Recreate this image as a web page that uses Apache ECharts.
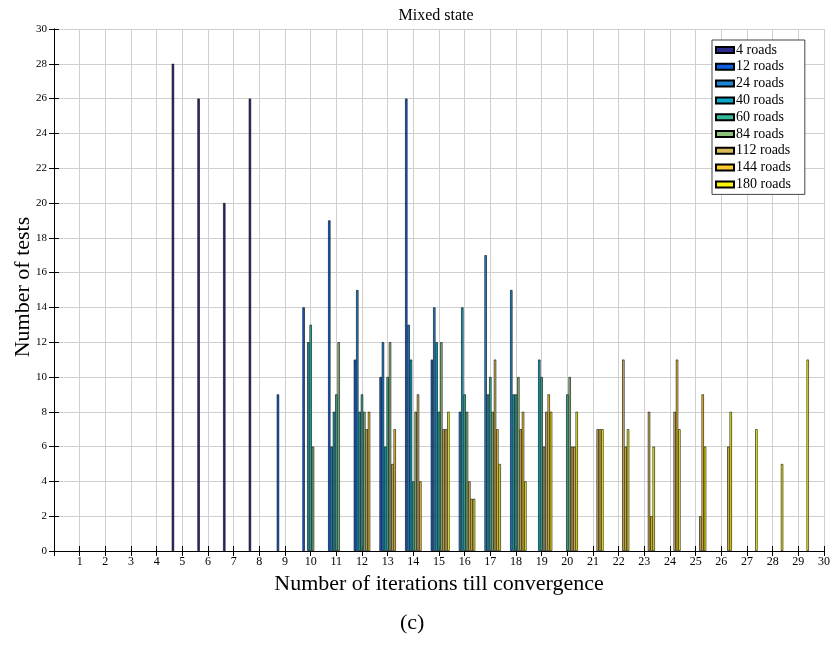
<!DOCTYPE html>
<html>
<head>
<meta charset="utf-8">
<title>Mixed state</title>
<script src="https://cdn.jsdelivr.net/npm/echarts@6/dist/echarts.min.js"></script>
</head>
<body style="margin:0;background:#fff">
<div id="main" style="width:831px;height:646px"></div>
<script type="text/javascript">
// number of tests per iteration count, one list per road count (starting at firstIter)
var roadCounts = [4, 12, 24, 40, 60, 84, 112, 144, 180];
var firstIter = [5, 9, 11, 10, 10, 10, 12, 12, 15];
var tests4 = [28, 26, 20, 26];
var tests12 = [9, 14, 19, 11, 10, 26, 11];
var tests24 = [6, 15, 12, 13, 14, 8, 17, 15];
var tests40 = [12, 8, 8, 6, 11, 12, 14, 9, 9, 11];
var tests60 = [13, 9, 9, 10, 4, 8, 9, 10, 9, 10, 9];
var tests84 = [6, 12, 8, 12, 8, 12, 8, 8, 10, 6, 10];
var tests112 = [7, 5, 9, 7, 4, 11, 7, 8, 6, 7, 11, 8, 8, 2];
var tests144 = [8, 7, 4, 7, 3, 7, 8, 9, 6, 7, 6, 2, 11, 9, 6];
var tests180 = [8, 3, 5, 4, 8, 8, 7, 7, 6, 7, 6, 8, 7, 5, 11];
var allTests = [tests4, tests12, tests24, tests40, tests60, tests84, tests112, tests144, tests180];

var colors = ['#2b2a88', '#0b5fe0', '#1a86d6', '#08a8c8', '#35b89c', '#8fc078', '#d8ba58', '#fdc830', '#f8f80e'];
var font = 'Liberation Serif';

var myChart = echarts.init(document.getElementById('main'));

var series = [];
for (var s = 0; s < roadCounts.length; s++) {
	var d = [];
	allTests[s].forEach(function(v, i) {
		if (v > 0) d.push([firstIter[s] + i, v]);
	});
	series.push({
		name: roadCounts[s] + ' roads',
		type: 'bar',
		data: d,
		barWidth: 2.35,
		barGap: '0%',
		itemStyle: {
			color: colors[s],
			borderColor: '#000',
			borderWidth: 0.6
		},
		emphasis: { disabled: true }
	});
}

var option = {
	backgroundColor: '#fff',
	animation: false,
	color: colors,
	title: {
		text: 'Mixed state',
		left: 431,
		textAlign: 'center',
		top: 3,
		textStyle: { fontFamily: font, fontSize: 16, fontWeight: 'normal', color: '#000' }
	},
	legend: {
		orient: 'vertical',
		left: 712,
		top: 40,
		padding: [3, 14, 3, 3],
		itemWidth: 18,
		itemHeight: 6,
		itemGap: 2.8,
		icon: 'rect',
		backgroundColor: '#fff',
		borderColor: '#444',
		borderWidth: 1,
		borderRadius: 0,
		textStyle: { fontFamily: font, fontSize: 14, lineHeight: 13, color: '#000', padding: [0, 0, 0, -3] },
		data: series.map(function(x) { return x.name; })
	},
	grid: { left: 54, top: 29, width: 770, height: 522, containLabel: false, outerBoundsMode: 'none' },
	xAxis: [{
		type: 'value',
		min: 0,
		max: 30,
		interval: 1,
		name: 'Number of iterations till convergence',
		nameLocation: 'middle',
		nameGap: 15,
		nameTextStyle: { fontFamily: font, fontSize: 22, color: '#000' },
		axisLine: { lineStyle: { color: '#000', width: 1 } },
		axisTick: { inside: true, length: 5, lineStyle: { color: '#000' } },
		axisLabel: {
			fontFamily: font, fontSize: 12, color: '#000', margin: 5,
			formatter: function(v) { return v === 0 ? '' : v; }
		},
		splitLine: { show: true, lineStyle: { color: '#cfcfcf', width: 1 } }
	}, {
		type: 'value',
		position: 'top',
		min: 0,
		max: 30,
		interval: 1,
		axisLine: { lineStyle: { color: '#000', width: 1 } },
		axisTick: { inside: true, length: 5, lineStyle: { color: '#000' } },
		axisLabel: { show: false },
		splitLine: { show: false }
	}],
	yAxis: [{
		type: 'value',
		min: 0,
		max: 30,
		interval: 2,
		axisLine: { show: true, lineStyle: { color: '#000', width: 1 } },
		axisTick: { show: true, inside: true, length: 5, lineStyle: { color: '#000' } },
		axisLabel: { fontFamily: font, fontSize: 11, color: '#000', margin: 7 },
		splitLine: { show: true, lineStyle: { color: '#cfcfcf', width: 1 } }
	}, {
		type: 'value',
		position: 'right',
		min: 0,
		max: 30,
		interval: 2,
		axisLine: { show: true, lineStyle: { color: '#000', width: 1 } },
		axisTick: { show: true, inside: true, length: 5, lineStyle: { color: '#000' } },
		axisLabel: { show: false },
		splitLine: { show: false }
	}],
	graphic: [{
		type: 'text',
		x: 23,
		y: 287,
		rotation: Math.PI / 2,
		style: {
			text: 'Number of tests', fontFamily: font, fontSize: 22, fill: '#000',
			align: 'center', verticalAlign: 'middle'
		}
	}, {
		type: 'text',
		left: 400,
		top: 612,
		style: { text: '(c)', fontFamily: font, fontSize: 22, fill: '#000' }
	}],
	series: series
};

myChart.setOption(option);
</script>
</body>
</html>
